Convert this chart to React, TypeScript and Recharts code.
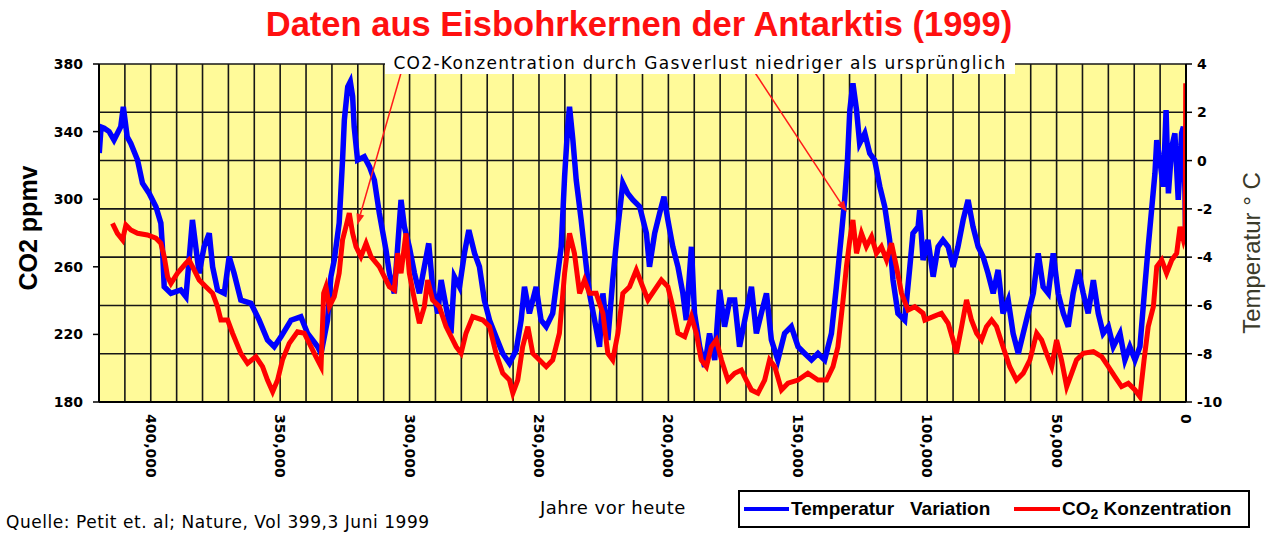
import React from 'react';
import { LineChart, Line, XAxis, YAxis, CartesianGrid, ReferenceLine } from 'recharts';

// Years before present (x) and temperature variation in °C (right axis)
const tempAges = [419900, 419200, 418000, 416100, 414200, 411600, 410600, 409100, 407700, 405100, 403200, 400600, 398000, 396100, 395500, 394800, 392200, 388400, 386400, 385200, 383900, 382600, 381300, 379400, 377400, 376100, 374200, 371600, 369700, 367800, 365200, 361300, 358100, 354900, 352300, 349700, 345800, 342000, 339400, 335500, 334200, 331700, 330400, 329100, 327200, 325900, 325200, 323900, 322900, 322000, 321400, 320100, 317500, 315500, 313600, 311700, 309100, 307800, 305900, 304600, 303300, 302000, 300100, 298100, 296200, 294300, 292600, 291100, 289100, 287800, 285900, 284000, 282700, 280700, 278800, 277100, 274900, 273000, 271100, 269100, 266600, 264000, 261400, 258800, 256900, 255600, 253700, 251100, 249200, 247200, 244700, 243400, 241400, 240100, 238900, 238200, 236900, 235600, 233700, 231700, 230500, 228500, 226600, 225300, 223400, 221500, 219500, 217600, 215700, 213700, 211100, 208500, 207300, 205300, 203400, 201700, 200200, 198300, 196300, 194400, 193100, 191100, 189900, 187900, 186000, 184100, 182100, 180200, 178300, 176300, 174400, 172500, 170500, 167900, 166000, 164100, 162100, 160200, 157700, 155100, 152500, 149900, 147300, 144700, 142200, 139600, 137000, 135100, 133100, 131900, 130800, 129900, 128700, 127300, 126100, 124100, 122200, 120300, 118300, 116400, 114500, 113200, 111300, 108700, 106700, 105500, 103500, 102900, 101600, 99700, 97700, 95800, 93900, 91900, 90000, 88100, 86100, 84200, 82300, 80300, 78400, 76500, 74500, 72600, 70700, 68700, 66800, 64800, 62900, 61000, 59000, 57100, 55200, 53200, 51300, 49400, 47400, 45500, 43600, 41600, 39700, 37800, 35800, 33900, 32000, 30000, 28100, 25500, 23600, 21700, 19700, 17800, 15900, 14600, 13300, 12000, 11300, 10100, 8800, 7700, 6800, 5500, 4300, 3000, 1700, 1000, 400, 200];
const tempValues = [0.31, 1.39, 1.34, 1.2, 0.85, 1.4, 2.23, 0.98, 0.71, 0.02, -0.94, -1.36, -1.91, -2.59, -3.57, -5.23, -5.5, -5.36, -5.64, -4.12, -2.46, -3.57, -4.67, -3.57, -3.01, -4.4, -5.36, -5.5, -3.98, -4.67, -5.78, -5.91, -6.61, -7.43, -7.71, -7.3, -6.61, -6.47, -7.16, -7.71, -7.99, -6.61, -4.81, -4.12, -2.59, 0.02, 1.68, 3.06, 3.27, 2.65, 1.4, 0.02, 0.16, -0.25, -0.81, -2.17, -3.71, -4.67, -5.5, -3.57, -1.63, -2.74, -3.57, -4.67, -5.5, -4.4, -3.43, -5.23, -6.33, -4.95, -6.05, -7.16, -4.81, -5.23, -3.84, -2.88, -3.84, -4.4, -5.78, -6.61, -7.3, -7.99, -8.4, -7.85, -6.61, -5.23, -6.33, -5.23, -6.61, -6.88, -6.33, -5.23, -3.57, -0.67, 1.4, 2.23, 0.85, -0.81, -2.46, -4.4, -5.5, -6.61, -7.71, -5.5, -7.43, -4.95, -2.74, -0.94, -1.36, -1.63, -1.91, -3.01, -4.4, -3.01, -2.19, -1.5, -2.46, -3.57, -4.4, -5.5, -6.61, -3.57, -6.33, -7.71, -8.54, -7.16, -8.26, -5.36, -6.88, -5.78, -5.78, -7.71, -6.61, -5.23, -7.16, -6.33, -5.5, -7.43, -8.26, -7.16, -6.88, -7.71, -7.99, -8.26, -7.99, -8.26, -7.16, -5.23, -3.01, -1.63, 0.02, 2.09, 3.2, 2.09, 0.71, 1.13, 0.3, 0.02, -1.08, -1.91, -3.29, -4.95, -6.33, -6.61, -4.4, -3.01, -2.74, -2.05, -4.12, -3.29, -4.81, -3.57, -3.29, -3.57, -4.4, -3.57, -2.46, -1.63, -2.74, -3.57, -3.98, -4.67, -5.5, -4.53, -6.33, -5.78, -7.16, -7.99, -7.16, -6.33, -5.5, -3.84, -5.23, -5.5, -3.84, -5.5, -6.33, -6.88, -5.5, -4.53, -5.5, -6.33, -4.95, -6.33, -7.16, -6.88, -7.71, -7.16, -8.26, -7.71, -8.26, -7.71, -5.23, -3.57, -2.05, -0.53, 0.85, 0.02, -1.08, 2.09, -1.36, 0.57, 1.13, -1.63, 1.13, 1.4, -1.36, -3.0];

// Years before present (x) and CO2 concentration in ppmv (left axis)
const co2Ages = [414800, 412900, 410900, 409600, 407700, 405100, 401300, 398000, 396100, 394800, 393500, 392200, 389700, 386400, 385200, 383200, 381300, 378700, 376100, 374200, 372900, 370300, 368400, 365200, 362600, 359400, 356800, 354900, 352900, 351000, 349100, 346500, 343300, 340700, 338100, 336200, 334200, 333200, 332300, 331000, 329100, 327200, 325900, 324600, 323300, 322000, 320700, 318800, 316800, 314900, 311700, 307800, 305900, 304600, 303300, 301400, 300100, 298100, 296200, 294300, 293000, 291100, 288500, 285900, 282000, 280100, 278200, 275600, 271700, 269100, 266600, 264000, 261400, 260100, 258200, 256300, 254300, 252400, 249800, 247200, 244700, 242100, 240100, 238200, 236300, 234300, 232400, 230500, 227900, 225300, 223400, 221500, 219500, 217600, 215000, 212400, 209900, 207900, 205300, 202700, 200200, 198300, 196300, 193700, 191100, 189200, 187300, 185300, 183400, 181500, 179500, 177000, 174400, 171800, 169900, 167900, 165400, 162800, 160900, 158900, 156300, 153800, 149900, 146100, 142200, 138900, 136400, 134500, 132500, 131200, 129900, 128700, 127300, 125400, 123500, 121500, 119600, 117700, 115700, 113800, 111900, 109900, 107400, 104800, 101600, 100900, 97700, 94500, 91900, 90000, 88700, 86700, 84800, 82900, 80900, 79000, 77100, 75100, 73200, 70700, 68100, 65500, 62900, 60300, 57700, 55800, 53900, 51900, 50000, 48100, 46100, 44200, 42300, 39700, 35800, 32600, 30000, 27500, 24900, 22300, 19700, 17800, 16200, 14600, 12600, 11300, 9400, 7500, 5500, 3600, 2300, 1000, 300, 100];
const co2Values = [285.7, 279.8, 275.9, 284.7, 281.8, 279.8, 278.8, 276.9, 273.9, 266.0, 254.1, 250.2, 256.2, 262.1, 264.0, 258.1, 252.2, 248.2, 244.3, 236.4, 228.5, 228.5, 220.7, 208.8, 202.9, 206.8, 200.9, 193.0, 186.1, 193.0, 204.9, 214.7, 221.6, 220.7, 212.7, 206.8, 200.9, 244.3, 248.2, 236.4, 242.3, 256.2, 275.9, 283.7, 291.7, 279.8, 271.9, 266.0, 273.9, 266.0, 260.1, 248.2, 246.3, 268.0, 256.2, 279.8, 256.2, 240.4, 226.6, 236.4, 252.2, 240.4, 236.4, 224.6, 212.7, 208.8, 220.7, 230.5, 228.5, 224.6, 208.8, 197.0, 193.0, 185.2, 193.0, 212.7, 224.6, 208.8, 204.9, 200.9, 204.9, 220.7, 256.2, 279.8, 268.0, 244.3, 252.2, 244.3, 244.3, 232.5, 208.8, 204.9, 220.7, 244.3, 248.2, 258.1, 248.2, 240.4, 246.3, 252.2, 248.2, 236.4, 220.7, 218.6, 230.5, 220.7, 204.9, 200.9, 212.7, 216.7, 204.9, 193.0, 197.0, 198.9, 193.0, 187.1, 185.2, 193.0, 204.9, 200.9, 187.1, 191.1, 193.0, 197.0, 193.0, 193.0, 200.9, 212.7, 240.4, 260.1, 275.9, 287.7, 268.0, 279.8, 271.9, 277.8, 268.0, 271.9, 264.0, 273.9, 260.1, 244.3, 234.4, 236.4, 232.5, 228.5, 230.5, 232.5, 226.6, 216.7, 208.8, 224.6, 240.4, 228.5, 220.7, 216.7, 224.6, 228.5, 224.6, 212.7, 200.9, 193.0, 197.0, 204.9, 220.7, 216.7, 208.8, 200.9, 216.7, 204.9, 189.1, 197.0, 204.9, 208.8, 209.8, 206.8, 200.9, 195.0, 189.1, 191.1, 187.1, 183.1, 204.9, 224.6, 236.4, 260.1, 264.0, 256.2, 264.0, 268.0, 283.7, 275.9, 280.0, 368.6];

// Axis ticks
const xGridTicks = [0, 10000, 20000, 30000, 40000, 50000, 60000, 70000, 80000, 90000, 100000, 110000, 120000, 130000, 140000, 150000, 160000, 170000, 180000, 190000, 200000, 210000, 220000, 230000, 240000, 250000, 260000, 270000, 280000, 290000, 300000, 310000, 320000, 330000, 340000, 350000, 360000, 370000, 380000, 390000, 400000, 410000, 420000];
const xLabelTicks = [0, 50000, 100000, 150000, 200000, 250000, 300000, 350000, 400000];
const co2Ticks = [180, 220, 260, 300, 340, 380];
const tempTicks = [-10, -8, -6, -4, -2, 0, 2, 4];

// Annotation arrows (data coordinates: years, °C)
const arrowStartAges = [303200, 166700];
const arrowStartTemps = [3.67, 3.67];
const arrowEndAges = [320200, 131100];
const arrowEndTemps = [-2.67, -2.13];

const tempData = tempAges.map((age, i) => ({ age, temp: tempValues[i] }));
const co2Data = co2Ages.map((age, i) => ({ age, co2: co2Values[i] }));

const tickFont = { fill: '#000', fontSize: 14, fontWeight: 'bold', fontFamily: '"DejaVu Sans", Verdana, sans-serif' } as const;

const XTick = (props: any) => {
  const { x, y, payload } = props;
  const v = payload.value as number;
  if (!xLabelTicks.includes(v)) return <g />;
  const label = v === 0 ? '0' : v.toLocaleString('en-US');
  return (
    <text
      x={x}
      y={y - 4}
      dy="0.36em"
      transform={`rotate(90, ${x}, ${y - 4})`}
      textAnchor="start"
      {...tickFont}
    >
      {label}
    </text>
  );
};

const ArrowShape = (p: any) => {
  const { x1, y1, x2, y2 } = p;
  if ([x1, y1, x2, y2].some((v) => typeof v !== 'number' || isNaN(v))) return <g />;
  const ang = Math.atan2(y2 - y1, x2 - x1);
  const len = 11;
  const hw = 4;
  const bx = x2 - len * Math.cos(ang);
  const by = y2 - len * Math.sin(ang);
  const px = -Math.sin(ang) * hw;
  const py = Math.cos(ang) * hw;
  return (
    <g>
      <line x1={x1} y1={y1} x2={bx} y2={by} stroke="#ff1a1a" strokeWidth={1.5} />
      <polygon points={`${x2},${y2} ${bx + px},${by + py} ${bx - px},${by - py}`} fill="#ff1a1a" />
    </g>
  );
};

export default function App() {
  return (
    <div style={{ position: 'absolute', left: 0, top: 0, width: 1270, height: 534, background: '#fff', overflow: 'hidden', fontFamily: '"Liberation Sans", Arial, sans-serif' }}>
      <LineChart width={1270} height={534} margin={{ top: 64, right: 0, bottom: 0, left: 0 }}>
        <CartesianGrid
          xAxisId="x"
          yAxisId="temp"
          stroke="#161616"
          strokeWidth={1.6}
          fill="#FFFA99"
          fillOpacity={1}
        />
        <XAxis
          xAxisId="x"
          type="number"
          dataKey="age"
          domain={[0, 420000]}
          reversed
          ticks={xGridTicks}
          interval={0}
          tick={XTick}
          tickLine={false}
          tickMargin={10}
          axisLine={{ stroke: '#000', strokeWidth: 2 }}
          height={132}
          allowDataOverflow
        />
        <YAxis
          yAxisId="co2"
          orientation="left"
          width={99}
          domain={[180, 380]}
          ticks={co2Ticks}
          interval={0}
          tick={tickFont}
          tickSize={6}
          tickMargin={10}
          tickLine={{ stroke: '#000', strokeWidth: 1.5 }}
          axisLine={{ stroke: '#000', strokeWidth: 2 }}
          allowDataOverflow
        />
        <YAxis
          yAxisId="temp"
          orientation="right"
          width={84}
          domain={[-10, 4]}
          ticks={tempTicks}
          interval={0}
          tick={tickFont}
          tickSize={6}
          tickMargin={5}
          tickLine={{ stroke: '#000', strokeWidth: 1.5 }}
          axisLine={{ stroke: '#000', strokeWidth: 2 }}
          allowDataOverflow
        />
        <Line
          xAxisId="x"
          yAxisId="temp"
          data={tempData}
          dataKey="temp"
          type="linear"
          stroke="#0000ff"
          strokeWidth={5.5}
          dot={false}
          isAnimationActive={false}
        />
        <Line
          xAxisId="x"
          yAxisId="co2"
          data={co2Data}
          dataKey="co2"
          type="linear"
          stroke="#ff0000"
          strokeWidth={5}
          dot={false}
          isAnimationActive={false}
        />
        {arrowStartAges.map((a, i) => (
          <ReferenceLine
            key={i}
            xAxisId="x"
            yAxisId="temp"
            segment={[
              { x: a, y: arrowStartTemps[i] },
              { x: arrowEndAges[i], y: arrowEndTemps[i] },
            ]}
            stroke="#ff1a1a"
            shape={ArrowShape}
            ifOverflow="visible"
          />
        ))}
      </LineChart>

      {/* Title */}
      <div style={{ position: 'absolute', left: 0, top: 4, width: 1278, textAlign: 'center', color: '#ff1010', fontSize: 34.5, fontWeight: 'bold', lineHeight: '40px', whiteSpace: 'nowrap' }}>
        Daten aus Eisbohrkernen der Antarktis (1999)
      </div>

      {/* Annotation box */}
      <div style={{ position: 'absolute', left: 385, top: 52, width: 630, height: 22, background: '#fff', color: '#000', fontSize: 17, lineHeight: '22px', textAlign: 'center', fontFamily: '"DejaVu Sans", sans-serif', letterSpacing: 1.3, whiteSpace: 'nowrap' }}>
        CO2-Konzentration durch Gasverlust niedriger als ursprünglich
      </div>

      {/* Left axis title */}
      <div style={{ position: 'absolute', left: 28, top: 228, transform: 'translate(-50%, -50%) rotate(-90deg)', fontSize: 25, fontWeight: 'bold', color: '#000', whiteSpace: 'nowrap' }}>
        CO2 ppmv
      </div>

      {/* Right axis title */}
      <div style={{ position: 'absolute', left: 1252, top: 253, transform: 'translate(-50%, -50%) rotate(-90deg)', fontSize: 24, color: '#3a3a2a', whiteSpace: 'nowrap' }}>
        Temperatur ° C
      </div>

      {/* X axis title */}
      <div style={{ position: 'absolute', left: 540, top: 497, fontSize: 18, color: '#000', whiteSpace: 'nowrap', fontFamily: '"DejaVu Sans", sans-serif', letterSpacing: 0.5 }}>
        Jahre vor heute
      </div>

      {/* Legend */}
      <div style={{ position: 'absolute', left: 738, top: 490, width: 508, height: 34, border: '2px solid #000', background: '#fff' }}>
        <div style={{ position: 'absolute', left: 4, top: 15, width: 45, height: 4, background: '#0000ff' }} />
        <div style={{ position: 'absolute', left: 51, top: 6, fontSize: 19, fontWeight: 'bold', lineHeight: '22px', whiteSpace: 'nowrap' }}>Temperatur</div>
        <div style={{ position: 'absolute', left: 170, top: 6, fontSize: 19, fontWeight: 'bold', lineHeight: '22px', whiteSpace: 'nowrap' }}>Variation</div>
        <div style={{ position: 'absolute', left: 274, top: 15, width: 46, height: 4, background: '#ff0000' }} />
        <div style={{ position: 'absolute', left: 322, top: 6, fontSize: 19, fontWeight: 'bold', lineHeight: '22px', whiteSpace: 'nowrap' }}>
          CO<sub style={{ fontSize: 14, verticalAlign: '-4px' }}>2</sub> Konzentration
        </div>
      </div>

      {/* Source */}
      <div style={{ position: 'absolute', left: 6, top: 512, fontSize: 17, lineHeight: '20px', color: '#000', whiteSpace: 'nowrap', fontFamily: '"DejaVu Sans", sans-serif', letterSpacing: 0.55 }}>
        Quelle: Petit et. al;  Nature, Vol 399,3 Juni 1999
      </div>
    </div>
  );
}
